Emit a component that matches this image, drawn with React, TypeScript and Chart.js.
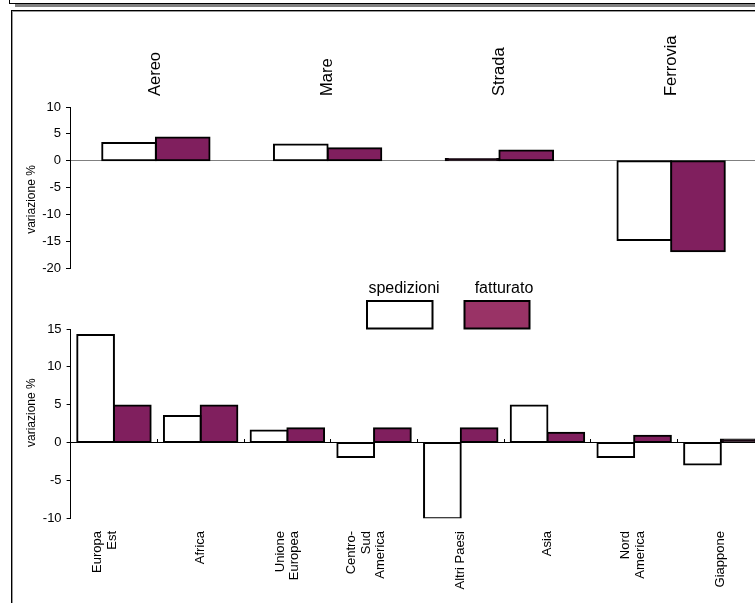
import React, { useEffect, useRef } from "react";
import { Chart, registerables } from "chart.js";

Chart.register(...registerables);

const FONT = "'Liberation Sans', Arial, Helvetica, sans-serif";

// ---- data ----
const seriesNames = ["spedizioni", "fatturato"];
const axisTitle = "variazione %";

const modeCategories = ["Aereo", "Mare", "Strada", "Ferrovia"];
const modeSpedizioni = [3.3, 3.0, 0.3, -14.8];
const modeFatturato = [4.3, 2.3, 1.9, -16.9];
const modeYTicks = [-20, -15, -10, -5, 0, 5, 10];

const areaCategories = [
  ["Europa", "Est"],
  ["Africa"],
  ["Unione", "Europea"],
  ["Centro-", "Sud", "America"],
  ["Altri Paesi"],
  ["Asia"],
  ["Nord", "America"],
  ["Giappone"],
];
const areaSpedizioni = [14.2, 3.5, 1.6, -1.9, -10, 4.9, -1.9, -2.9];
const areaFatturato = [4.9, 4.9, 1.9, 1.9, 1.9, 1.3, 0.9, 0.4];
const areaYTicks = [-10, -5, 0, 5, 10, 15];

// ---- styles ----
const FILLS = ["#FFFFFF", "#801F5E"];
const SWATCHES = ["#FFFFFF", "#993366"];
const TOP_LABEL_SIZE = 16.5;
const TOP_LABEL_LH = 1.2;
const AREA_LABEL_NUDGE = [-9, 0, 0, -8, 0, 0, -1, 0];

function makeDatasets(a: number[], b: number[], catPct: number) {
  return [a, b].map((data, i) => ({
    label: seriesNames[i],
    data,
    // very thin bars render as a solid outline
    backgroundColor: (ctx: any) =>
      ctx.raw !== undefined && Math.abs(ctx.raw) < 0.45 ? "#1a0612" : FILLS[i],
    borderColor: "#000",
    borderWidth: 2,
    borderSkipped: false as const,
    inflateAmount: 1,
    barPercentage: 1,
    categoryPercentage: catPct,
  }));
}

function yAxis(ticksArr: number[], width: number, zeroLine: boolean) {
  return {
    min: ticksArr[0],
    max: ticksArr[ticksArr.length - 1],
    ticks: {
      stepSize: ticksArr[1] - ticksArr[0],
      font: { family: FONT, size: 13 },
      color: "#000",
      padding: 5,
    },
    grid: {
      drawOnChartArea: zeroLine,
      color: (ctx: any) =>
        zeroLine && ctx.tick && ctx.tick.value === 0 ? "#808080" : "rgba(0,0,0,0)",
      tickColor: "#000",
      tickLength: 4,
      lineWidth: 1,
    },
    border: { display: true, color: "#000", width: 1 },
    title: { display: false },
    afterFit: (s: any) => {
      s.width = width;
    },
  };
}

// y-axis title drawn beside the axis (vertical text)
function yTitlePlugin(dy: number) {
  return {
    id: "yTitle",
    afterDraw(chart: any) {
      const ctx = chart.ctx;
      const a = chart.chartArea;
      ctx.save();
      ctx.font = `12px ${FONT}`;
      ctx.fillStyle = "#000";
      ctx.textAlign = "center";
      ctx.textBaseline = "middle";
      ctx.translate(32, (a.top + a.bottom) / 2 + dy);
      ctx.rotate(-Math.PI / 2);
      ctx.fillText(axisTitle, 0, 0);
      ctx.restore();
    },
  };
}

const areaDecor = {
  id: "areaDecor",
  afterDraw(chart: any) {
    const ctx = chart.ctx;
    const xs = chart.scales.x;
    ctx.save();
    // category labels, rotated, centred on each category
    ctx.font = `13px ${FONT}`;
    ctx.fillStyle = "#000";
    ctx.textAlign = "right";
    ctx.textBaseline = "middle";
    areaCategories.forEach((lines, i) => {
      const cx = xs.getPixelForValue(i) + AREA_LABEL_NUDGE[i];
      lines.forEach((line, j) => {
        const x = cx + (j - (lines.length - 1) / 2) * 14.5;
        ctx.save();
        ctx.translate(x, 256);
        ctx.rotate(-Math.PI / 2);
        ctx.fillText(line, 0, 0);
        ctx.restore();
      });
    });
    // legend: text above swatch
    const items = [
      { tx: 404, bx: 367, bw: 65.5 },
      { tx: 504, bx: 464.5, bw: 65 },
    ];
    ctx.font = `16px ${FONT}`;
    ctx.textAlign = "center";
    ctx.textBaseline = "alphabetic";
    chart.data.datasets.forEach((ds: any, i: number) => {
      const it = items[i];
      ctx.fillStyle = "#000";
      ctx.fillText(ds.label, it.tx, 18);
      ctx.fillStyle = SWATCHES[i];
      ctx.fillRect(it.bx, 26, it.bw, 27.5);
      ctx.lineWidth = 2;
      ctx.strokeStyle = "#000";
      ctx.strokeRect(it.bx, 26, it.bw, 27.5);
    });
    ctx.restore();
  },
};

export default function App() {
  const topRef = useRef<HTMLCanvasElement>(null);
  const botRef = useRef<HTMLCanvasElement>(null);

  useEffect(() => {
    if (!topRef.current || !botRef.current) return;
    const top = new Chart(topRef.current, {
      type: "bar",
      data: {
        labels: modeCategories,
        datasets: makeDatasets(modeSpedizioni, modeFatturato, 0.625) as any,
      },
      options: {
        responsive: false,
        animation: false,
        devicePixelRatio: 1,
        layout: { padding: { left: 0, right: 0, top: 0, bottom: 14 } },
        plugins: { legend: { display: false }, tooltip: { enabled: false } },
        scales: {
          x: {
            position: "top",
            offset: true,
            grid: { display: false, drawTicks: false },
            border: { display: false },
            ticks: {
              font: { family: FONT, size: TOP_LABEL_SIZE, lineHeight: TOP_LABEL_LH },
              color: "#000",
              padding: 11,
              minRotation: 90,
              maxRotation: 90,
              autoSkip: false,
              labelOffset: TOP_LABEL_SIZE * TOP_LABEL_LH,
            },
            afterFit: (s: any) => {
              s.height = 107;
            },
          },
          y: yAxis(modeYTicks, 70, true) as any,
        },
      },
      plugins: [yTitlePlugin(12)],
    });

    const bot = new Chart(botRef.current, {
      type: "bar",
      data: {
        labels: areaCategories.map((l) => l.join(" ")),
        datasets: makeDatasets(areaSpedizioni, areaFatturato, 0.847) as any,
      },
      options: {
        responsive: false,
        animation: false,
        devicePixelRatio: 1,
        layout: { padding: { left: 0, right: 0.8, top: 54, bottom: 84.7 } },
        plugins: { legend: { display: false }, tooltip: { enabled: false } },
        scales: {
          x: { display: false, offset: true, grid: { offset: true } },
          x2: {
            type: "category",
            position: { y: 0 },
            offset: true,
            grid: {
              offset: true,
              drawOnChartArea: false,
              drawTicks: true,
              tickLength: -4,
              color: "#000",
              tickColor: "#000",
            },
            border: { display: true, color: "#000", width: 1 },
            ticks: { display: false },
          },
          y: yAxis(areaYTicks, 70.6, false) as any,
        },
      },
      plugins: [areaDecor, yTitlePlugin(-11)],
    });

    return () => {
      top.destroy();
      bot.destroy();
    };
  }, []);

  return (
    <div
      style={{
        position: "fixed",
        left: 0,
        top: 0,
        width: 755,
        height: 603,
        overflow: "hidden",
        background: "#fff",
      }}
    >
      <div
        style={{
          position: "absolute",
          left: 9,
          top: -21,
          width: 800,
          height: 25,
          border: "1px solid #000",
          boxSizing: "border-box",
        }}
      />
      <div
        style={{
          position: "absolute",
          left: 15,
          top: 4,
          width: 800,
          height: 3,
          background: "#808080",
        }}
      />
      <div
        style={{
          position: "absolute",
          left: 11,
          top: 10,
          width: 800,
          height: 700,
          borderTop: "1px solid #000",
          borderLeft: "1px solid #000",
          boxShadow: "inset 1px 1px 0 #999",
          boxSizing: "border-box",
        }}
      />
      <canvas
        ref={topRef}
        width={757}
        height={282}
        style={{ position: "absolute", left: 0, top: 0 }}
      />
      <canvas
        ref={botRef}
        width={765}
        height={328}
        style={{ position: "absolute", left: 0, top: 275 }}
      />
    </div>
  );
}
